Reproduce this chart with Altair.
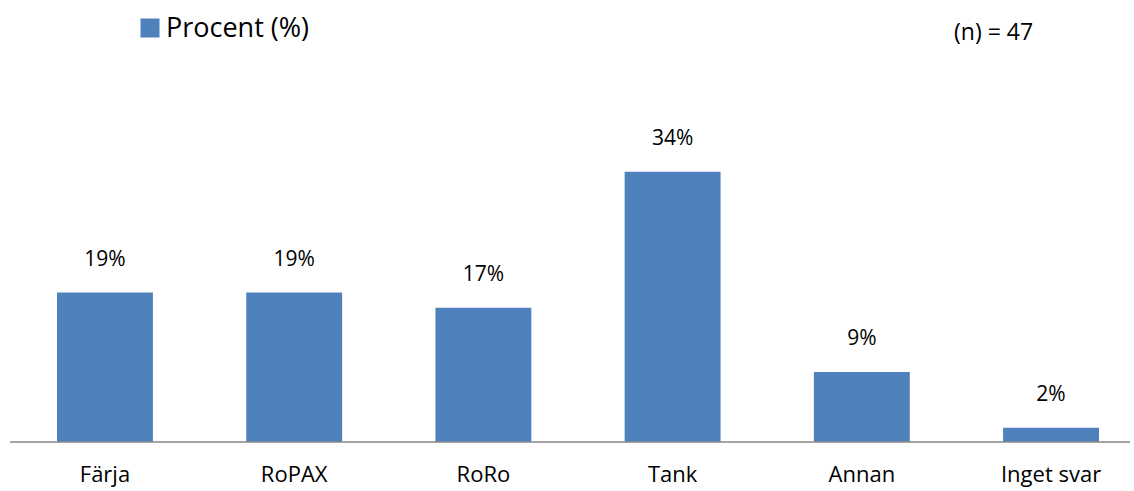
import altair as alt
import pandas as pd

categories = ["Färja", "RoPAX", "RoRo", "Tank", "Annan", "Inget svar"]
values = [18.8, 18.8, 16.9, 34.0, 8.8, 1.8]
labels = ["19%", "19%", "17%", "34%", "9%", "2%"]
legend_label = "Procent (%)"
n_label = "(n) = 47"

df = pd.DataFrame({"cat": categories, "val": values, "lab": labels})

FONT = "Open Sans"
COLOR = "#4F81BD"

x = alt.X("cat:N", sort=categories, title=None,
          scale=alt.Scale(paddingInner=0.493, paddingOuter=0, range=[47, 1089]),
          axis=alt.Axis(labelAngle=0, ticks=False, domain=False,
                        labelFont=FONT, labelFontSize=22, labelColor="#000000",
                        labelPadding=22))
y = alt.Y("val:Q", scale=alt.Scale(domain=[0, 40]), axis=None)

bars = alt.Chart(df).mark_bar(color=COLOR).encode(x=x, y=y)
text = alt.Chart(df).mark_text(dy=-33, font=FONT, fontSize=21, color="#000000").encode(
    x=x, y=y, text="lab:N")
baseline = alt.Chart(pd.DataFrame({"t": [0]})).mark_rule(color="#888888", strokeWidth=1.5).encode(
    x=alt.value(0), x2=alt.value(1120), y=alt.value(318))

leg_sq = alt.Chart(pd.DataFrame({"t": [legend_label]})).mark_square(
    color=COLOR, size=361, opacity=1).encode(x=alt.value(140), y=alt.value(-96))
leg_tx = alt.Chart(pd.DataFrame({"t": [legend_label]})).mark_text(
    align="left", baseline="middle", font=FONT, fontSize=27, color="#000000").encode(
    x=alt.value(156), y=alt.value(-95), text="t:N")
n_tx = alt.Chart(pd.DataFrame({"t": [n_label]})).mark_text(
    align="left", baseline="middle", font=FONT, fontSize=23, color="#000000").encode(
    x=alt.value(944), y=alt.value(-91), text="t:N")

chart = alt.layer(bars, text, baseline, leg_sq, leg_tx, n_tx).properties(
    width=1120, height=318,
    autosize=alt.AutoSizeParams(type="none"),
    padding={"left": 10, "top": 124, "right": 4, "bottom": 49},
).configure(background="white").configure_view(strokeWidth=0, stroke=None)

chart.save("out.html", embed_options={"renderer": "svg", "actions": False})
